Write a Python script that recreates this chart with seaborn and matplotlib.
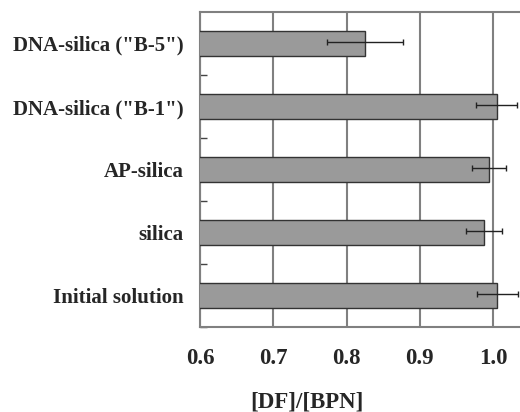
import matplotlib
matplotlib.use("Agg")
import matplotlib.pyplot as plt
import seaborn as sns
import pandas as pd
import numpy as np

categories = ['DNA-silica ("B-5")', 'DNA-silica ("B-1")', 'AP-silica', 'silica', 'Initial solution']
values = [0.825, 1.005, 0.995, 0.988, 1.006]
errors = [0.052, 0.028, 0.023, 0.025, 0.028]
xticks = [0.6, 0.7, 0.8, 0.9, 1.0]
xtick_labels = ['0.6', '0.7', '0.8', '0.9', '1.0']

sns.set_theme(style="white")
plt.rcParams['font.family'] = ['Liberation Serif', 'DejaVu Serif']
plt.rcParams['font.weight'] = 'bold'

df = pd.DataFrame({'cat': categories, 'val': values})

fig = plt.figure(figsize=(5.2, 4.12), dpi=100)
ax = fig.add_axes([0.385, 0.206, 0.615, 0.765])

sns.barplot(data=df, x='val', y='cat', order=categories, color='#9a9a9a',
            saturation=1, width=0.4, edgecolor='#333333', linewidth=1.0, ax=ax, zorder=3)
ax.errorbar(values, np.arange(len(categories)) - 0.02, xerr=errors, fmt='none',
            ecolor='#222222', elinewidth=1.0, capsize=2.5, capthick=1.0, zorder=4)

ax.set_xlim(0.6, 1.037)
ax.set_ylim(len(categories) - 0.5, -0.5)
ax.set_xticks(xticks)
ax.set_xticklabels(xtick_labels, fontsize=16.5, fontweight='bold')
ax.tick_params(axis='x', length=0, pad=15)
ax.tick_params(axis='y', which='major', length=0, pad=12, labelsize=15)
for lab in ax.get_yticklabels():
    lab.set_fontweight('bold')
ax.set_yticks(np.arange(len(categories)) + 0.5, minor=True)
ax.tick_params(axis='y', which='minor', left=True, length=5, direction='in',
               color='#444444', width=1)

ax.grid(axis='x', color='#808080', linewidth=1.5, zorder=0)
ax.set_axisbelow(True)
for s in ['top', 'bottom', 'left']:
    ax.spines[s].set_color('#808080')
    ax.spines[s].set_linewidth(1.5)
ax.spines['right'].set_visible(False)

ax.set_ylabel('')
ax.set_xlabel('[DF]/[BPN]', fontsize=16.5, fontweight='bold', labelpad=16)
ax.xaxis.set_label_coords(0.334, -0.205)

fig.savefig('out.png', dpi=100)
